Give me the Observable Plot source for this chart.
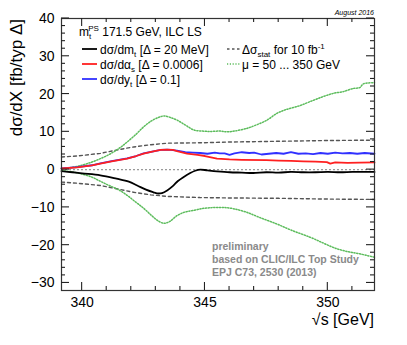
<!DOCTYPE html>
<html><head><meta charset="utf-8">
<script src="https://cdn.jsdelivr.net/npm/d3@7"></script>
<script src="https://cdn.jsdelivr.net/npm/@observablehq/plot@0.6"></script>
<style>body{margin:0;background:#fff}</style>
</head><body><div id="chart"></div>
<script>
// ---- data ----
const greenUpX = [339.16,339.6,340.0,340.4,340.74,341.1,341.5,341.83,342.2,342.5,342.8,343.1,343.32,343.55,343.86,344.2,344.54,344.9,345.2,345.6,345.89,346.2,346.7,347.0,347.5,347.93,348.3,348.8,349.28,349.8,350.23,350.6,351.05,351.3,351.45,351.9];
const greenUpY = [0.3,0.6,1.2,2.0,2.9,4.0,5.6,7.3,9.4,11.3,12.8,13.8,14.2,13.9,13.1,11.8,10.5,10.2,10.1,10.2,10.0,10.2,10.9,11.6,13.0,14.9,15.9,16.8,18.0,19.3,20.2,20.6,21.5,21.7,22.7,23.0];
const greenDnX = [339.16,339.6,340.0,340.4,340.74,341.1,341.5,341.83,342.2,342.5,342.8,343.1,343.32,343.55,343.86,344.2,344.54,344.9,345.2,345.6,345.89,346.2,346.7,347.2,347.93,348.5,349.28,349.8,350.3,350.8,351.3,351.9];
const greenDnY = [-0.3,-0.6,-1.2,-2.0,-3.1,-4.2,-5.4,-6.8,-8.7,-10.2,-12.0,-13.6,-14.2,-13.8,-12.2,-11.2,-10.8,-10.3,-10.1,-10.0,-10.1,-10.4,-11.3,-12.6,-14.4,-16.0,-17.9,-19.4,-20.8,-21.7,-22.3,-23.2];
const statX = [339.16,339.8,340.74,341.5,342.1,342.8,343.5,344.8,346,348,350,351.9];
const statUp = [3.35,3.6,4.3,5.3,6.0,6.6,7.0,7.1,7.3,7.5,7.7,7.8];
const statDn = [-3.3,-3.6,-4.2,-5.2,-6.0,-6.7,-7.1,-7.4,-7.5,-7.6,-7.8,-7.9];
const mtX = [339.16,339.6,340.0,340.74,341.4,341.9,342.24,342.6,342.9,343.05,343.25,343.46,343.7,343.9,344.12,344.4,344.6,344.81,345.1,345.49,346.0,346.5,346.96,347.5,348,348.5,349,349.5,350,350.5,351,351.5,351.9];
const mtY = [-0.4,-0.7,-1.0,-1.5,-2.4,-3.2,-4.2,-5.3,-6.0,-6.3,-6.2,-5.5,-4.3,-3.0,-2.0,-0.9,-0.3,0.0,-0.2,-0.45,-0.7,-0.8,-0.9,-0.7,-0.8,-0.6,-0.7,-0.7,-0.6,-0.7,-0.6,-0.6,-0.6];
const asX = [339.16,339.8,340.4,340.74,341.2,341.83,342.2,342.5,342.9,343.2,343.46,343.7,343.86,344.27,344.7,345.0,345.49,346.0,346.5,347.5,348.0,348.5,349.0,349.5,349.96,350.1,350.3,350.8,351.3,351.9];
const asY = [0.3,0.6,1.1,1.6,2.2,2.9,3.6,4.25,4.8,5.2,5.3,5.2,4.9,4.25,3.9,3.6,2.9,2.7,2.6,2.5,2.4,2.3,2.2,2.1,2.0,1.6,1.9,1.8,1.85,1.9];
const ytX = [339.16,339.8,340.4,340.74,341.2,341.83,342.2,342.5,342.9,343.2,343.46,343.6,343.86,344.2,344.5,344.81,345.1,345.4,345.6,345.8,346.0,346.2,346.5,346.8,347.0,347.3,347.6,347.9,348.2,348.5,348.8,349.1,349.4,349.7,350.0,350.3,350.6,350.9,351.2,351.5,351.9];
const ytY = [0.35,0.65,1.15,1.65,2.25,2.95,3.6,4.3,4.85,5.2,5.3,5.2,5.0,4.6,4.5,4.4,4.2,4.5,4.3,4.3,3.9,4.3,4.6,4.4,4.5,4.0,4.2,4.4,4.2,4.6,4.2,4.3,4.1,4.4,4.2,4.5,4.3,4.4,4.2,4.4,4.2];
const xMajor = [340,345,350];
const xMinor = [341,342,343,344,346,347,348,349,351];
const yMajor = [-30,-20,-10,0,10,20,30,40];
const yMinor = [-28,-26,-24,-22,-18,-16,-14,-12,-8,-6,-4,-2,2,4,6,8,12,14,16,18,22,24,26,28,32,34,36,38];

const W = 407, H = 345, ML = 61, MR = 33, MT = 18, MB = 55;
const pts = (xs, ys) => xs.map((x, i) => ({x, y: ys[i]}));
const green = "#5cbc5c";
const minus = d => (d < 0 ? "\u2212" + Math.abs(d) : String(d));

const plot = Plot.plot({
  width: W, height: H,
  marginLeft: ML, marginRight: MR, marginTop: MT, marginBottom: MB,
  style: {fontFamily: "Liberation Sans, Arial, sans-serif", fontSize: "14px", background: "#fff"},
  x: {domain: [339.16, 351.9]},
  y: {domain: [-32, 40]},
  marks: [
    Plot.ruleY([0], {stroke: "#999", strokeWidth: 1.3, strokeDasharray: "2,2"}),
    Plot.line(pts(statX, statUp), {x: "x", y: "y", stroke: "#555", strokeWidth: 1.4, strokeDasharray: "3,3"}),
    Plot.line(pts(statX, statDn), {x: "x", y: "y", stroke: "#555", strokeWidth: 1.4, strokeDasharray: "3,3"}),
    Plot.line(pts(greenUpX, greenUpY), {x: "x", y: "y", stroke: green, strokeWidth: 1.5, strokeDasharray: "1.2,1.6", curve: "catmull-rom"}),
    Plot.line(pts(greenDnX, greenDnY), {x: "x", y: "y", stroke: green, strokeWidth: 1.5, strokeDasharray: "1.2,1.6", curve: "catmull-rom"}),
    Plot.line(pts(ytX, ytY), {x: "x", y: "y", stroke: "#3030ff", strokeWidth: 1.8}),
    Plot.line(pts(asX, asY), {x: "x", y: "y", stroke: "#ff2020", strokeWidth: 1.8}),
    Plot.line(pts(mtX, mtY), {x: "x", y: "y", stroke: "#000", strokeWidth: 1.8, curve: "catmull-rom"}),
    Plot.frame({stroke: "#333", strokeWidth: 1.2}),
    Plot.axisX(xMajor, {tickSize: 0, tickPadding: 7, tickFormat: d => String(d), label: null, fontSize: 14}),
    Plot.axisY(yMajor, {tickSize: 0, tickPadding: 7, tickFormat: minus, label: null, fontSize: 14})
  ]
});
document.getElementById("chart").appendChild(plot);

const svg = d3.select(plot);
// inward ticks on all four sides, positioned through Plot's own scales
const sx = plot.scale("x"), sy = plot.scale("y");
const x0 = ML, x1 = W - MR, y0 = MT, y1 = H - MB;
const tg = svg.append("g").attr("class", "inward-ticks");
function tick(xa, ya, xb, yb) {
  tg.append("line").attr("x1", xa).attr("y1", ya).attr("x2", xb).attr("y2", yb)
    .attr("stroke", "#222").attr("stroke-width", 1.1);
}
for (const [vals, len] of [[xMajor, 8], [xMinor, 4]]) for (const v of vals) {
  const px = sx.apply(v);
  tick(px, y1, px, y1 - len);
  tick(px, y0, px, y0 + len);
}
for (const [vals, len] of [[yMajor, 8], [yMinor, 4]]) for (const v of vals) {
  const py = sy.apply(v);
  tick(x0, py, x0 + len, py);
  tick(x1, py, x1 - len, py);
}

// ---- annotations ----
const g = svg.append("g").attr("font-family", "Liberation Sans, Arial, sans-serif");
function txt(x, y, parts, opts = {}) {
  const t = g.append("text").attr("x", x).attr("y", y)
    .attr("font-size", opts.size || 12).attr("fill", opts.fill || "#000")
    .attr("text-anchor", opts.anchor || "start");
  if (opts.weight) t.attr("font-weight", opts.weight);
  if (opts.style) t.attr("font-style", opts.style);
  if (opts.transform) t.attr("transform", opts.transform);
  for (const p of parts) {
    if (typeof p === "string") t.append("tspan").text(p);
    else {
      const s = t.append("tspan").attr("font-size", p.size || 8).text(p.t);
      if (p.dy) s.attr("dy", p.dy);
      if (p.dx) s.attr("dx", p.dx);
    }
  }
  return t;
}
txt(374, 325, ["\u221As [GeV]"], {size: 16, anchor: "end"});
txt(0, 0, ["d\u03c3/dX [fb/typ \u0394]"], {size: 17, anchor: "end", transform: "translate(22,19) rotate(-90)"});
txt(374, 15, ["August 2016"], {size: 7, anchor: "end", style: "italic"});

txt(79, 36, ["m", {t: "t", dy: 3, size: 8}, {t: "PS", dy: -8, dx: -3, size: 8}, {t: " 171.5 GeV, ILC LS", dy: 5, size: 12}]);
const leg = [
  {y: 49, color: "#000", parts: ["d\u03c3/dm", {t: "t", dy: 3, size: 8}, {t: " [\u0394 = 20 MeV]", dy: -3, size: 12}]},
  {y: 64, color: "#ff2020", parts: ["d\u03c3/d\u03b1", {t: "s", dy: 3, size: 8}, {t: " [\u0394 = 0.0006]", dy: -3, size: 12}]},
  {y: 79, color: "#3030ff", parts: ["d\u03c3/dy", {t: "t", dy: 3, size: 8}, {t: " [\u0394 = 0.1]", dy: -3, size: 12}]}
];
for (const l of leg) {
  g.append("line").attr("x1", 82).attr("x2", 97).attr("y1", l.y).attr("y2", l.y).attr("stroke", l.color).attr("stroke-width", 1.8);
  txt(100, l.y + 4.5, l.parts);
}
g.append("line").attr("x1", 227).attr("x2", 240).attr("y1", 49).attr("y2", 49).attr("stroke", "#555").attr("stroke-width", 1.4).attr("stroke-dasharray", "2.5,2.5");
txt(242, 53.5, ["\u0394\u03c3", {t: "stat", dy: 3, size: 8}, {t: " for 10 fb", dy: -3, size: 12}, {t: "-1", dy: -5, size: 8}]);
g.append("line").attr("x1", 227).attr("x2", 240).attr("y1", 64).attr("y2", 64).attr("stroke", green).attr("stroke-width", 1.5).attr("stroke-dasharray", "1.2,1.6");
txt(242, 68.5, ["\u03bc = 50 ... 350 GeV"]);

txt(212, 250, ["preliminary"], {size: 10.5, weight: "bold", fill: "#8a8a8a"});
txt(212, 263, ["based on CLIC/ILC Top Study"], {size: 10.5, weight: "bold", fill: "#8a8a8a"});
txt(212, 275.5, ["EPJ C73, 2530 (2013)"], {size: 10.5, weight: "bold", fill: "#8a8a8a"});
</script></body></html>
